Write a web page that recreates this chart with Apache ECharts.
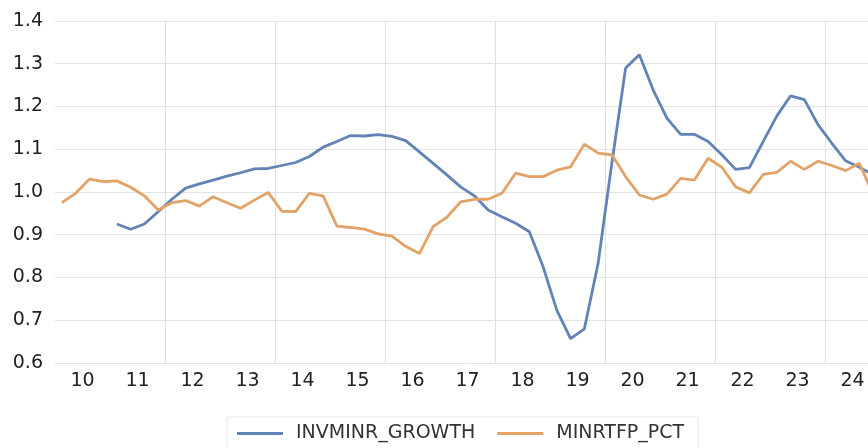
<!DOCTYPE html>
<html>
<head>
<meta charset="utf-8">
<script src="https://cdn.jsdelivr.net/npm/echarts@6/dist/echarts.min.js"></script>
<style>
  html, body { margin: 0; padding: 0; background: #ffffff; overflow: hidden; }
  #chart { width: 880px; height: 448px; }
</style>
</head>
<body>
<div id="chart"></div>
<script>
// Year labels on the axis (2010..2024)
const yearLabels = ['10','11','12','13','14','15','16','17','18','19','20','21','22','23','24'];
// Quarterly categories
const quarters = [];
yearLabels.forEach(y => { for (let q = 1; q <= 4; q++) quarters.push('20' + y + 'Q' + q); });

const yTicks = { min: 0.6, max: 1.4, step: 0.1 };

const invminrGrowth = [
  null, null, null, null, 0.925, 0.913, 0.925, 0.954, 0.983, 1.009, 1.019, 1.028,
  1.037, 1.045, 1.054, 1.055, 1.062, 1.069, 1.083, 1.105, 1.118, 1.132, 1.131, 1.134,
  1.130, 1.120, 1.094, 1.067, 1.040, 1.012, 0.991, 0.958, 0.942, 0.927, 0.907, 0.825,
  0.723, 0.657, 0.680, 0.833, 1.068, 1.290, 1.321, 1.239, 1.173, 1.135, 1.135, 1.118,
  1.087, 1.053, 1.057, 1.118, 1.178, 1.225, 1.216, 1.157, 1.114, 1.073, 1.058, 1.040
];

const minrtfpPct = [
  0.975, 0.997, 1.030, 1.024, 1.026, 1.011, 0.991, 0.958, 0.975, 0.980, 0.967, 0.989,
  0.975, 0.962, 0.981, 0.999, 0.955, 0.954, 0.997, 0.991, 0.920, 0.917, 0.913, 0.902,
  0.897, 0.873, 0.856, 0.919, 0.941, 0.977, 0.983, 0.983, 0.997, 1.044, 1.036, 1.036,
  1.051, 1.059, 1.112, 1.091, 1.087, 1.036, 0.993, 0.983, 0.995, 1.032, 1.028, 1.079,
  1.058, 1.012, 0.998, 1.041, 1.046, 1.072, 1.053, 1.072, 1.062, 1.050, 1.067, 0.995
];

const seriesNames = ['INVMINR_GROWTH', 'MINRTFP_PCT'];
const colors = ['#6283b6', '#e3a266'];
const fontFamily = '"DejaVu Sans", "Noto Sans", sans-serif';

const chart = echarts.init(document.getElementById('chart'), null, { renderer: 'canvas' });
chart.setOption({
  animation: false,
  backgroundColor: '#ffffff',
  grid: { left: 55, right: 0, top: 21, bottom: 85, containLabel: false },
  legend: {
    data: seriesNames,
    left: 227,
    top: 417,
    icon: 'rect',
    itemWidth: 46,
    itemHeight: 3,
    itemGap: 22,
    padding: [7, 14, 30, 10],
    borderColor: '#e6e6e6',
    borderWidth: 1,
    textStyle: { fontFamily, fontSize: 19, color: '#333333', padding: [0, 0, 0, 8] }
  },
  xAxis: [
    {
      type: 'category',
      data: quarters,
      boundaryGap: true,
      show: false
    },
    {
      type: 'category',
      data: yearLabels,
      position: 'bottom',
      boundaryGap: true,
      axisLine: { show: false },
      axisTick: { show: false },
      axisLabel: { fontFamily, fontSize: 19, color: '#222222', margin: 9, interval: 0 },
      splitLine: {
        show: true,
        interval: (i) => i > 0 && i % 2 === 0,
        lineStyle: { color: '#e0e0e0', width: 1 }
      }
    }
  ],
  yAxis: {
    type: 'value',
    min: yTicks.min,
    max: yTicks.max,
    interval: yTicks.step,
    axisLine: { show: false },
    axisTick: { show: false },
    axisLabel: {
      fontFamily, fontSize: 19, color: '#222222', margin: 12,
      formatter: v => v.toFixed(1)
    },
    splitLine: { show: true, lineStyle: { color: '#e3e3e3', width: 1 } }
  },
  series: [
    {
      name: seriesNames[0], type: 'line', xAxisIndex: 0, data: invminrGrowth,
      showSymbol: false, symbol: 'none', connectNulls: false,
      lineStyle: { color: colors[0], width: 2.8 }, itemStyle: { color: colors[0] }
    },
    {
      name: seriesNames[1], type: 'line', xAxisIndex: 0, data: minrtfpPct,
      showSymbol: false, symbol: 'none',
      lineStyle: { color: colors[1], width: 2.8 }, itemStyle: { color: colors[1] }
    }
  ]
});
</script>
</body>
</html>
